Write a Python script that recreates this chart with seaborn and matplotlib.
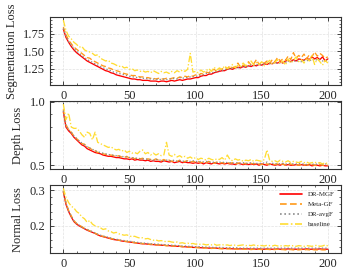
import numpy as np
import pandas as pd
import seaborn as sns
import matplotlib
matplotlib.use("Agg")
from matplotlib import pyplot as plt

# epochs 0, 2, ..., 200
epochs = list(range(0, 201, 2))
methods = ['DR-MGF', 'Meta-GF', 'DR-avgF', 'baseline']

# ---- segmentation loss ----
seg_mgf = [1.82, 1.70, 1.63, 1.57, 1.52, 1.48, 1.45, 1.42, 1.39, 1.36,
           1.34, 1.32, 1.30, 1.28, 1.26, 1.24, 1.22, 1.21, 1.19, 1.18,
           1.16, 1.15, 1.14, 1.13, 1.12, 1.11, 1.10, 1.10, 1.09, 1.09,
           1.08, 1.08, 1.08, 1.07, 1.07, 1.07, 1.06, 1.07, 1.07, 1.06,
           1.07, 1.08, 1.07, 1.08, 1.09, 1.08, 1.09, 1.10, 1.10, 1.11,
           1.12, 1.12, 1.14, 1.15, 1.15, 1.17, 1.17, 1.19, 1.20, 1.21,
           1.22, 1.22, 1.24, 1.25, 1.24, 1.26, 1.27, 1.26, 1.28, 1.27,
           1.29, 1.28, 1.30, 1.29, 1.31, 1.30, 1.32, 1.31, 1.33, 1.32,
           1.34, 1.33, 1.35, 1.33, 1.36, 1.37, 1.35, 1.38, 1.36, 1.39,
           1.38, 1.37, 1.40, 1.38, 1.42, 1.39, 1.41, 1.38, 1.42, 1.36,
           1.39]
seg_meta = [1.85, 1.74, 1.66, 1.61, 1.56, 1.53, 1.50, 1.47, 1.44, 1.41,
            1.40, 1.37, 1.35, 1.33, 1.31, 1.29, 1.28, 1.26, 1.25, 1.23,
            1.22, 1.21, 1.19, 1.18, 1.17, 1.16, 1.15, 1.15, 1.14, 1.13,
            1.13, 1.12, 1.12, 1.11, 1.11, 1.10, 1.11, 1.10, 1.10, 1.11,
            1.10, 1.11, 1.12, 1.11, 1.13, 1.12, 1.14, 1.13, 1.15, 1.14,
            1.16, 1.15, 1.18, 1.17, 1.20, 1.19, 1.22, 1.24, 1.21, 1.25,
            1.24, 1.27, 1.25, 1.29, 1.26, 1.28, 1.33, 1.27, 1.30, 1.29,
            1.35, 1.30, 1.32, 1.38, 1.31, 1.34, 1.33, 1.36, 1.32, 1.38,
            1.35, 1.41, 1.36, 1.39, 1.37, 1.43, 1.38, 1.48, 1.40, 1.44,
            1.41, 1.46, 1.39, 1.45, 1.42, 1.49, 1.43, 1.47, 1.44, 1.40,
            1.42]
seg_avg = [1.83, 1.72, 1.64, 1.59, 1.54, 1.50, 1.47, 1.44, 1.41, 1.38,
           1.36, 1.34, 1.32, 1.30, 1.28, 1.26, 1.25, 1.23, 1.22, 1.20,
           1.19, 1.18, 1.17, 1.16, 1.15, 1.14, 1.13, 1.13, 1.12, 1.12,
           1.11, 1.11, 1.10, 1.10, 1.10, 1.09, 1.10, 1.09, 1.10, 1.09,
           1.10, 1.10, 1.11, 1.10, 1.12, 1.11, 1.12, 1.12, 1.13, 1.13,
           1.14, 1.14, 1.16, 1.16, 1.18, 1.18, 1.20, 1.19, 1.21, 1.22,
           1.22, 1.24, 1.23, 1.26, 1.25, 1.27, 1.26, 1.28, 1.27, 1.29,
           1.28, 1.30, 1.29, 1.31, 1.30, 1.32, 1.31, 1.33, 1.32, 1.33,
           1.32, 1.34, 1.33, 1.35, 1.34, 1.36, 1.34, 1.37, 1.35, 1.36,
           1.35, 1.37, 1.36, 1.38, 1.36, 1.39, 1.37, 1.38, 1.36, 1.37,
           1.36]
seg_base = [1.95, 1.80, 1.72, 1.68, 1.63, 1.60, 1.56, 1.57, 1.52, 1.50,
            1.49, 1.47, 1.44, 1.45, 1.40, 1.38, 1.36, 1.37, 1.33, 1.32,
            1.30, 1.28, 1.29, 1.26, 1.27, 1.24, 1.25, 1.22, 1.23, 1.21,
            1.22, 1.20, 1.21, 1.19, 1.22, 1.20, 1.18, 1.21, 1.19, 1.20,
            1.18, 1.21, 1.19, 1.22, 1.20, 1.23, 1.21, 1.24, 1.47, 1.20,
            1.21, 1.19, 1.23, 1.20, 1.22, 1.25, 1.21, 1.27, 1.23, 1.26,
            1.24, 1.29, 1.25, 1.27, 1.31, 1.26, 1.30, 1.28, 1.33, 1.29,
            1.32, 1.36, 1.30, 1.34, 1.31, 1.35, 1.29, 1.33, 1.37, 1.31,
            1.34, 1.38, 1.32, 1.36, 1.30, 1.39, 1.33, 1.37, 1.42, 1.35,
            1.38, 1.33, 1.40, 1.36, 1.44, 1.31, 1.39, 1.35, 1.30, 1.37,
            1.33]

# ---- depth loss ----
dep_mgf = [0.92, 0.80, 0.77, 0.75, 0.72, 0.70, 0.68, 0.66, 0.65, 0.63,
           0.62, 0.61, 0.60, 0.595, 0.59, 0.58, 0.575, 0.57, 0.57, 0.565,
           0.56, 0.56, 0.555, 0.55, 0.55, 0.545, 0.55, 0.54, 0.545, 0.54,
           0.54, 0.535, 0.54, 0.53, 0.535, 0.53, 0.53, 0.525, 0.535, 0.53,
           0.525, 0.53, 0.52, 0.525, 0.53, 0.52, 0.525, 0.52, 0.52, 0.515,
           0.52, 0.515, 0.52, 0.51, 0.52, 0.515, 0.51, 0.52, 0.515, 0.51,
           0.515, 0.51, 0.515, 0.51, 0.51, 0.505, 0.515, 0.51, 0.505, 0.51,
           0.505, 0.51, 0.505, 0.51, 0.50, 0.51, 0.505, 0.50, 0.51, 0.505,
           0.50, 0.505, 0.50, 0.51, 0.50, 0.505, 0.50, 0.50, 0.505, 0.50,
           0.505, 0.50, 0.50, 0.505, 0.495, 0.50, 0.50, 0.495, 0.50, 0.495,
           0.495]
dep_meta = [0.94, 0.82, 0.78, 0.76, 0.73, 0.71, 0.69, 0.67, 0.665, 0.645,
            0.635, 0.62, 0.615, 0.60, 0.60, 0.59, 0.585, 0.58, 0.58, 0.575,
            0.57, 0.575, 0.565, 0.56, 0.57, 0.555, 0.56, 0.55, 0.56, 0.55,
            0.555, 0.545, 0.55, 0.545, 0.54, 0.55, 0.54, 0.535, 0.545, 0.535,
            0.54, 0.53, 0.535, 0.53, 0.54, 0.525, 0.53, 0.535, 0.525, 0.53,
            0.525, 0.53, 0.52, 0.525, 0.52, 0.53, 0.52, 0.515, 0.525, 0.515,
            0.52, 0.515, 0.52, 0.515, 0.52, 0.51, 0.515, 0.52, 0.51, 0.515,
            0.51, 0.515, 0.51, 0.515, 0.51, 0.505, 0.515, 0.51, 0.505, 0.51,
            0.505, 0.51, 0.505, 0.51, 0.50, 0.505, 0.51, 0.50, 0.505, 0.50,
            0.505, 0.50, 0.505, 0.50, 0.505, 0.50, 0.495, 0.505, 0.50, 0.50,
            0.50]
dep_avg = [0.93, 0.81, 0.78, 0.76, 0.73, 0.71, 0.69, 0.675, 0.66, 0.645,
           0.635, 0.625, 0.615, 0.605, 0.60, 0.595, 0.59, 0.585, 0.58, 0.58,
           0.575, 0.57, 0.57, 0.565, 0.565, 0.56, 0.56, 0.555, 0.555, 0.55,
           0.55, 0.55, 0.545, 0.545, 0.54, 0.545, 0.54, 0.54, 0.535, 0.54,
           0.535, 0.535, 0.54, 0.53, 0.535, 0.53, 0.535, 0.53, 0.53, 0.535,
           0.53, 0.525, 0.53, 0.525, 0.53, 0.525, 0.52, 0.525, 0.52, 0.525,
           0.52, 0.525, 0.52, 0.52, 0.515, 0.52, 0.52, 0.515, 0.52, 0.515,
           0.515, 0.52, 0.515, 0.515, 0.51, 0.52, 0.515, 0.525, 0.51, 0.515,
           0.51, 0.515, 0.51, 0.515, 0.51, 0.51, 0.515, 0.51, 0.51, 0.515,
           0.51, 0.51, 0.505, 0.51, 0.51, 0.505, 0.51, 0.52, 0.505, 0.51,
           0.505]
dep_base = [0.98, 0.86, 0.91, 0.80, 0.79, 0.79, 0.77, 0.74, 0.72, 0.76,
            0.75, 0.70, 0.76, 0.68, 0.67, 0.66, 0.65, 0.64, 0.645, 0.63,
            0.62, 0.625, 0.61, 0.62, 0.60, 0.61, 0.595, 0.60, 0.59, 0.61,
            0.62, 0.59, 0.60, 0.58, 0.595, 0.58, 0.59, 0.575, 0.58, 0.68,
            0.58, 0.57, 0.585, 0.565, 0.575, 0.56, 0.57, 0.555, 0.565, 0.55,
            0.56, 0.545, 0.555, 0.55, 0.54, 0.555, 0.545, 0.54, 0.55, 0.545,
            0.56, 0.54, 0.58, 0.545, 0.535, 0.55, 0.54, 0.545, 0.53, 0.54,
            0.535, 0.545, 0.53, 0.54, 0.535, 0.53, 0.545, 0.62, 0.54, 0.53,
            0.535, 0.525, 0.54, 0.53, 0.525, 0.535, 0.52, 0.53, 0.525, 0.52,
            0.53, 0.52, 0.525, 0.515, 0.52, 0.525, 0.515, 0.52, 0.51, 0.52,
            0.51]

# ---- normal loss ----
nor_mgf = [0.295, 0.260, 0.240, 0.225, 0.212, 0.205, 0.200, 0.196, 0.192, 0.188,
           0.185, 0.182, 0.179, 0.175, 0.172, 0.170, 0.168, 0.166, 0.164, 0.162,
           0.161, 0.160, 0.158, 0.157, 0.156, 0.155, 0.154, 0.153, 0.152, 0.151,
           0.150, 0.150, 0.149, 0.148, 0.148, 0.147, 0.147, 0.146, 0.146, 0.145,
           0.145, 0.144, 0.144, 0.143, 0.143, 0.142, 0.142, 0.141, 0.141, 0.140,
           0.140, 0.140, 0.139, 0.139, 0.139, 0.138, 0.138, 0.138, 0.138, 0.137,
           0.137, 0.137, 0.137, 0.137, 0.136, 0.136, 0.136, 0.136, 0.136, 0.136,
           0.136, 0.135, 0.136, 0.135, 0.136, 0.135, 0.135, 0.136, 0.135, 0.135,
           0.135, 0.136, 0.135, 0.135, 0.135, 0.136, 0.135, 0.135, 0.135, 0.135,
           0.135, 0.135, 0.136, 0.135, 0.135, 0.135, 0.135, 0.136, 0.135, 0.135,
           0.135]
nor_meta = [0.298, 0.265, 0.243, 0.228, 0.215, 0.207, 0.202, 0.198, 0.193, 0.190,
            0.186, 0.183, 0.180, 0.176, 0.173, 0.171, 0.169, 0.167, 0.165, 0.163,
            0.162, 0.160, 0.159, 0.157, 0.157, 0.155, 0.155, 0.153, 0.153, 0.151,
            0.151, 0.150, 0.149, 0.149, 0.148, 0.147, 0.148, 0.146, 0.146, 0.145,
            0.145, 0.144, 0.145, 0.143, 0.143, 0.142, 0.142, 0.141, 0.141, 0.140,
            0.140, 0.139, 0.139, 0.138, 0.139, 0.138, 0.137, 0.138, 0.137, 0.137,
            0.136, 0.137, 0.136, 0.136, 0.135, 0.136, 0.135, 0.136, 0.135, 0.135,
            0.135, 0.134, 0.135, 0.134, 0.135, 0.134, 0.134, 0.135, 0.134, 0.134,
            0.134, 0.135, 0.134, 0.134, 0.133, 0.134, 0.134, 0.133, 0.134, 0.133,
            0.134, 0.133, 0.134, 0.133, 0.134, 0.133, 0.133, 0.134, 0.133, 0.133,
            0.133]
nor_avg = [0.297, 0.263, 0.242, 0.227, 0.214, 0.207, 0.202, 0.197, 0.193, 0.190,
           0.187, 0.184, 0.180, 0.177, 0.174, 0.172, 0.170, 0.168, 0.166, 0.164,
           0.163, 0.161, 0.160, 0.159, 0.158, 0.157, 0.156, 0.155, 0.154, 0.153,
           0.152, 0.152, 0.151, 0.150, 0.150, 0.149, 0.149, 0.148, 0.148, 0.147,
           0.147, 0.146, 0.146, 0.145, 0.145, 0.144, 0.144, 0.143, 0.143, 0.143,
           0.142, 0.142, 0.142, 0.141, 0.141, 0.141, 0.140, 0.140, 0.140, 0.140,
           0.140, 0.139, 0.139, 0.139, 0.139, 0.139, 0.139, 0.138, 0.138, 0.138,
           0.138, 0.138, 0.138, 0.138, 0.138, 0.138, 0.138, 0.138, 0.138, 0.138,
           0.138, 0.138, 0.138, 0.138, 0.138, 0.138, 0.138, 0.138, 0.138, 0.138,
           0.138, 0.138, 0.138, 0.138, 0.138, 0.138, 0.138, 0.138, 0.138, 0.138,
           0.138]
nor_base = [0.305, 0.280, 0.265, 0.255, 0.250, 0.240, 0.235, 0.225, 0.220, 0.210,
            0.215, 0.205, 0.200, 0.198, 0.195, 0.190, 0.192, 0.186, 0.184, 0.180,
            0.182, 0.178, 0.176, 0.174, 0.175, 0.172, 0.170, 0.171, 0.168, 0.166,
            0.167, 0.164, 0.165, 0.162, 0.160, 0.161, 0.158, 0.159, 0.157, 0.156,
            0.157, 0.155, 0.154, 0.155, 0.152, 0.153, 0.151, 0.152, 0.150, 0.151,
            0.149, 0.150, 0.148, 0.149, 0.147, 0.148, 0.147, 0.149, 0.146, 0.147,
            0.148, 0.146, 0.147, 0.145, 0.147, 0.146, 0.145, 0.146, 0.147, 0.145,
            0.146, 0.145, 0.147, 0.144, 0.146, 0.145, 0.144, 0.146, 0.145, 0.144,
            0.146, 0.144, 0.145, 0.143, 0.145, 0.144, 0.146, 0.144, 0.143, 0.145,
            0.144, 0.143, 0.145, 0.144, 0.143, 0.145, 0.146, 0.143, 0.144, 0.147,
            0.144]

panels = [
    ('Segmentation Loss', [seg_mgf, seg_meta, seg_avg, seg_base]),
    ('Depth Loss', [dep_mgf, dep_meta, dep_avg, dep_base]),
    ('Normal Loss', [nor_mgf, nor_meta, nor_avg, nor_base]),
]

palette = {'DR-MGF': '#ff0000', 'Meta-GF': '#ff9a1a',
           'DR-avgF': '#8c8c8c', 'baseline': '#ffdd33'}
dashes = {'DR-MGF': '', 'Meta-GF': (4, 2), 'DR-avgF': (1, 1.6),
          'baseline': (5, 1.5, 1, 1.5)}

sns.set_style('ticks')
plt.rcParams['font.family'] = ['Liberation Serif', 'DejaVu Serif']
plt.rcParams['font.size'] = 9
plt.rcParams['xtick.direction'] = 'in'
plt.rcParams['ytick.direction'] = 'in'
plt.rcParams['xtick.top'] = True
plt.rcParams['ytick.right'] = True
plt.rcParams['xtick.minor.visible'] = True
plt.rcParams['ytick.minor.visible'] = True

fig, axes = plt.subplots(3, 1, figsize=(3.48, 2.75), dpi=100)
fig.subplots_adjust(left=0.144, right=0.98, top=0.938, bottom=0.08, hspace=0.24)

for ax, (ylabel, series) in zip(axes, panels):
    rows = []
    for m, vals in zip(methods, series):
        assert len(vals) == len(epochs), (ylabel, m, len(vals))
        rows += [(e, v, m) for e, v in zip(epochs, vals)]
    df = pd.DataFrame(rows, columns=['epoch', 'loss', 'method'])
    sns.lineplot(data=df, x='epoch', y='loss', hue='method', style='method',
                 palette=palette, dashes=dashes, hue_order=methods,
                 style_order=methods, lw=0.95, ax=ax, legend=(ylabel == 'Normal Loss'))
    ax.set_xlabel('')
    ax.set_ylabel(ylabel, fontsize=9)
    ax.set_xticks([0, 50, 100, 150, 200])
    ax.grid(True, which='major', ls='--', lw=0.5, color='#e2e2e2')
    ax.tick_params(labelsize=9, which='major', length=3, width=0.6)
    ax.tick_params(which='minor', length=1.5, width=0.5)
    for s in ax.spines.values():
        s.set_linewidth(0.8)
        s.set_color('#333333')

axes[0].set_yticks([1.25, 1.50, 1.75])
axes[1].set_yticks([0.5, 1.0])
axes[2].set_yticks([0.2, 0.3])

leg = axes[2].legend(loc='upper right', fontsize=5, frameon=False,
                     handlelength=3.2, labelspacing=0.6)
for line in leg.get_lines():
    line.set_linewidth(1.2)

fig.savefig('out.png', dpi=100)
